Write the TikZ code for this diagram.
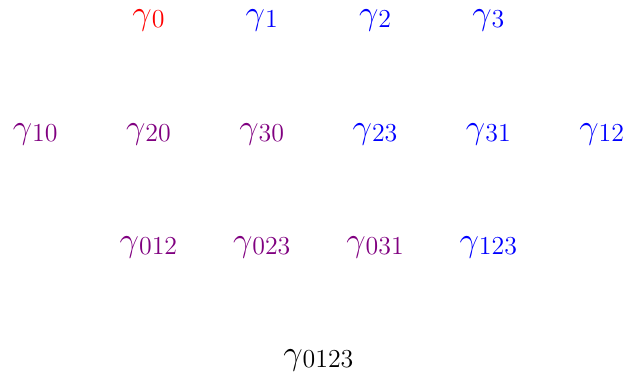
\documentclass[tikz,border=0pt]{standalone}
\definecolor{scalarred}{rgb}{1,0,0}
\definecolor{spaceblue}{rgb}{0,0,1}
\definecolor{mixpurple}{rgb}{0.5,0,0.5}
\newcommand{\gbasis}[1]{{\fontsize{17.5}{20}\selectfont$\gamma$}\raisebox{-1.5pt}{\fontsize{13}{15}\selectfont #1}}
\begin{document}
\begin{tikzpicture}[x=1cm,y=1cm,
  every node/.style={inner sep=0pt},
  red/.style={text=scalarred},
  blue/.style={text=spaceblue},
  mix/.style={text=mixpurple},
  plain/.style={text=black}]
\useasboundingbox (-0.62,-0.27) rectangle (10.43,6.365);
% vectors
\node[red] (g0) at (2,6) {\gbasis{0}};
\node[blue] (g1) at (4,6) {\gbasis{1}};
\node[blue] (g2) at (6,6) {\gbasis{2}};
\node[blue] (g3) at (8,6) {\gbasis{3}};
% bivectors
\node[mix] (g10) at (0,4) {\gbasis{10}};
\node[mix] (g20) at (2,4) {\gbasis{20}};
\node[mix] (g30) at (4,4) {\gbasis{30}};
\node[blue] (g23) at (6,4) {\gbasis{23}};
\node[blue] (g31) at (8,4) {\gbasis{31}};
\node[blue] (g12) at (10,4) {\gbasis{12}};
% trivectors
\node[mix] (g012) at (2,2) {\gbasis{012}};
\node[mix] (g023) at (4,2) {\gbasis{023}};
\node[mix] (g031) at (6,2) {\gbasis{031}};
\node[blue] (g123) at (8,2) {\gbasis{123}};
% pseudoscalar
\node[plain] (g0123) at (5,0) {\gbasis{0123}};
\end{tikzpicture}
\end{document}
